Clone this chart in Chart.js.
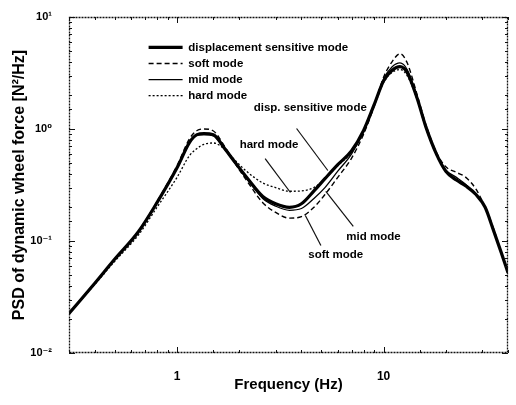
<!DOCTYPE html>
<html><head><meta charset="utf-8">
<script src="https://cdn.jsdelivr.net/npm/chart.js@4/dist/chart.umd.min.js"></script>
<style>html,body{margin:0;padding:0;background:#fff}#wrap{width:516px;height:405px;position:relative}</style>
</head><body><div id="wrap"><canvas id="c"></canvas></div>
<script>
// ---- data ----
const freqHz = [0.3,0.4,0.5,0.65,0.8,1.0,1.15,1.25,1.35,1.5,1.7,1.9,2.2,2.6,3.0,3.5,4.0,4.6,5.2,6.0,7.0,8.0,9.0,10,11,12,13,14.5,16,18,20,22.5,25,28,31,34,37,40];
const dispSensitive = [0.0225,0.042,0.069,0.121,0.22,0.45,0.76,0.89,0.91,0.89,0.67,0.51,0.36,0.25,0.215,0.2,0.215,0.28,0.36,0.48,0.64,0.97,1.65,2.7,3.35,3.6,3.2,1.9,1.05,0.6,0.42,0.35,0.31,0.26,0.2,0.125,0.08,0.052];
const softMode = [0.0225,0.042,0.069,0.122,0.225,0.47,0.82,0.97,1.0,0.96,0.7,0.5,0.335,0.22,0.18,0.16,0.165,0.2,0.26,0.37,0.55,0.9,1.6,2.9,4.0,4.7,3.9,2.05,1.1,0.62,0.46,0.41,0.37,0.29,0.2,0.13,0.08,0.052];
const midMode = [0.0225,0.042,0.069,0.121,0.22,0.45,0.77,0.88,0.89,0.87,0.66,0.5,0.35,0.24,0.205,0.188,0.195,0.24,0.3,0.42,0.6,0.95,1.65,2.8,3.6,3.9,3.4,1.95,1.05,0.6,0.43,0.37,0.32,0.26,0.2,0.125,0.08,0.052];
const hardMode = [0.0225,0.041,0.066,0.113,0.2,0.37,0.58,0.67,0.73,0.75,0.66,0.53,0.41,0.33,0.3,0.278,0.28,0.3,0.36,0.47,0.62,0.95,1.6,2.6,3.2,3.4,3.0,1.85,1.02,0.59,0.42,0.35,0.31,0.26,0.2,0.125,0.08,0.052];
const seriesNames = ['displacement sensitive mode','soft mode','mid mode','hard mode'];
const xTickValues = [1,10];
const xTickText = ['1','10'];
const yTickValues = [0.01,0.1,1,10];
const yTickText = ['10\u207B\u00B2','10\u207B\u00B9','10\u2070','10\u00B9'];
const annotationTexts = ['disp. sensitive mode','hard mode','mid mode','soft mode'];
const annotationTextAt = [[2.35,1.55],[2.01,0.72],[6.6,0.11],[4.32,0.0745]];
const annotationLineFrom = [[3.79,1.01],[2.67,0.545],[7.13,0.135],[4.97,0.091]];
const annotationLineTo = [[5.37,0.426],[3.54,0.271],[5.25,0.277],[4.18,0.169]];

const FONT = '"Liberation Sans", Arial, "DejaVu Sans", sans-serif';
const pts = arr => freqHz.map((f,i)=>({x:f,y:arr[i]}));
const near = (a,b) => Math.abs(a-b) <= 1e-6*Math.max(1,Math.abs(b));
const isDecade = v => near(Math.log10(v), Math.round(Math.log10(v)));

const legendMove = {
  id: 'legendMove',
  afterLayout(chart) {
    const l = chart.legend; if (!l) return;
    const a = chart.chartArea;
    const w = l.width, h = l.height;
    l.left = a.left + 75; l.top = a.top + 20;
    l.right = l.left + w; l.bottom = l.top + h;
  }
};

const frameTicks = {
  id: 'frameTicks',
  afterDatasetsDraw(chart) {
    const {ctx, chartArea: a, scales: {x, y}} = chart;
    ctx.save();
    ctx.strokeStyle = '#111';
    ctx.lineWidth = 1;
    const seg = (x1,y1,x2,y2) => { ctx.beginPath(); ctx.moveTo(x1,y1); ctx.lineTo(x2,y2); ctx.stroke(); };
    x.ticks.forEach(t => {
      const p = Math.round(x.getPixelForValue(t.value)) + 0.5;
      const len = isDecade(t.value) ? 6 : 3;
      seg(p, a.bottom, p, a.bottom - len);
      seg(p, a.top, p, a.top + len);
    });
    y.ticks.forEach(t => {
      const p = Math.round(y.getPixelForValue(t.value)) + 0.5;
      const len = isDecade(t.value) ? 6 : 3;
      seg(a.left, p, a.left + len, p);
      seg(a.right, p, a.right - len, p);
    });
    ctx.setLineDash([2,1]);
    ctx.lineWidth = 1.3;
    ctx.strokeRect(a.left + 0.5, a.top + 0.5, a.right - a.left - 1, a.bottom - a.top - 1);
    ctx.setLineDash([]);
    // annotations
    ctx.lineWidth = 1.2;
    ctx.fillStyle = '#000';
    ctx.font = 'bold 11.5px ' + FONT;
    ctx.textAlign = 'left';
    ctx.textBaseline = 'middle';
    annotationTexts.forEach((txt,i) => {
      ctx.fillText(txt, x.getPixelForValue(annotationTextAt[i][0]), y.getPixelForValue(annotationTextAt[i][1]));
      seg(x.getPixelForValue(annotationLineFrom[i][0]), y.getPixelForValue(annotationLineFrom[i][1]),
          x.getPixelForValue(annotationLineTo[i][0]), y.getPixelForValue(annotationLineTo[i][1]));
    });
    ctx.restore();
  }
};

new Chart(document.getElementById('c'), {
  type: 'line',
  data: {
    datasets: [
      {label: seriesNames[0], data: pts(dispSensitive), borderColor:'#000', backgroundColor:'#000', borderWidth:3.2},
      {label: seriesNames[1], data: pts(softMode), borderColor:'#000', backgroundColor:'#000', borderWidth:1.4, borderDash:[5,3]},
      {label: seriesNames[2], data: pts(midMode), borderColor:'#000', backgroundColor:'#000', borderWidth:1.3},
      {label: seriesNames[3], data: pts(hardMode), borderColor:'#000', backgroundColor:'#000', borderWidth:1.3, borderDash:[2,2]}
    ]
  },
  options: {
    responsive: true, maintainAspectRatio: false, animation: false,
    layout: {padding: {top: 17, right: 1, left: 0, bottom: 0}},
    elements: {point: {radius: 0}, line: {cubicInterpolationMode: 'monotone', fill: false}},
    plugins: {
      tooltip: {enabled: false},
      legend: {
        position: 'chartArea', align: 'start',
        labels: {usePointStyle: true, pointStyle: 'line', pointStyleWidth: 34, boxHeight: 10,
                 padding: 4.6, color: '#000', font: {family: FONT, size: 11.5, weight: 'bold'},
                 generateLabels: chart => {
                   const items = Chart.defaults.plugins.legend.labels.generateLabels(chart);
                   items.forEach(it => {
                     const ds = chart.data.datasets[it.datasetIndex];
                     it.lineDash = ds.borderDash || [];
                     it.lineWidth = ds.borderWidth;
                     it.strokeStyle = ds.borderColor;
                     it.fillStyle = ds.borderColor;
                     it.pointStyle = 'line';
                   });
                   return items;
                 }}
      }
    },
    scales: {
      x: {
        type: 'logarithmic', min: 0.3, max: 40,
        grid: {display: false}, border: {display: false},
        ticks: {autoSkip: false, maxRotation: 0, minRotation: 0, padding: 8, color: '#000',
                font: {family: FONT, size: 12, weight: 'bold'},
                callback: v => { const i = xTickValues.findIndex(t => near(v,t)); return i >= 0 ? xTickText[i] : ''; }},
        title: {display: true, text: 'Frequency (Hz)', color: '#000',
                font: {family: FONT, size: 15, weight: 'bold'}, padding: {top: 0, bottom: 11}},
        afterFit: s => { s.height = 52; }
      },
      y: {
        type: 'logarithmic', min: 0.01, max: 10,
        grid: {display: false}, border: {display: false},
        ticks: {autoSkip: false, padding: 9, color: '#000',
                font: {family: FONT, size: 11, weight: 'bold'},
                callback: v => { const i = yTickValues.findIndex(t => near(v,t)); return i >= 0 ? yTickText[i] : ''; }},
        title: {display: true, text: 'PSD of dynamic wheel force [N\u00B2/Hz]', color: '#000',
                font: {family: FONT, size: 16, weight: 'bold'}, padding: {top: 10, bottom: 0}},
        afterFit: s => { s.width = 69; }
      }
    }
  },
  plugins: [legendMove, frameTicks]
});
</script></body></html>
